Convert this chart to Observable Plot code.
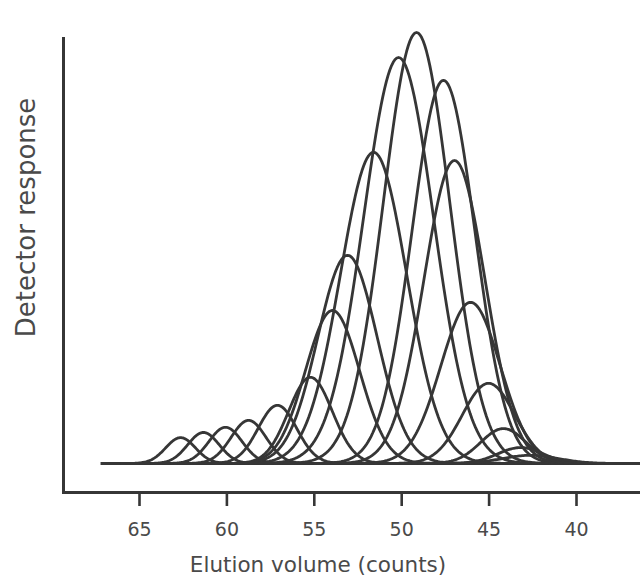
<!DOCTYPE html>
<html>
<head>
<meta charset="utf-8">
<script src="https://cdn.jsdelivr.net/npm/d3@7"></script>
<script src="https://cdn.jsdelivr.net/npm/@observablehq/plot@0.6"></script>
<style>
  html, body { margin: 0; padding: 0; background: #ffffff; }
  #chart svg { display: block; }
</style>
</head>
<body>
<div id="chart"></div>
<script>
// Peak centres (elution volume, counts), heights (relative response) and widths (sigma, counts)
const peakCenters = [62.65, 61.34, 60.08, 58.76, 57.11, 55.22, 53.96, 53.10, 51.61, 50.18, 49.15, 47.61, 46.98, 46.06, 45.03, 44.18, 43.20, 42.63];
const peakHeights = [6.0, 7.2, 8.4, 10.0, 13.5, 20.0, 35.5, 48.3, 72.2, 94.2, 100, 88.9, 70.3, 37.4, 18.6, 8.1, 3.7, 1.9];
const peakWidths  = [0.85, 0.9, 0.95, 1.0, 1.1, 1.25, 1.55, 1.7, 1.9, 2.0, 1.9, 1.8, 1.75, 1.7, 1.5, 1.3, 1.3, 1.6];
const xTicks = [65, 60, 55, 50, 45, 40];
const baselineExtent = [67.2, 36.9];
const xLabel = "Elution volume (counts)";
const yLabel = "Detector response";

// Build the curve table from the peak parameters
const curves = [];
peakCenters.forEach((c, i) => {
  const s = peakWidths[i], h = peakHeights[i];
  const n = 160;
  for (let k = 0; k <= n; k++) {
    const u = c - 4 * s + (8 * s * k) / n;
    curves.push({peak: i, volume: u, response: h * Math.exp(-((u - c) ** 2) / (2 * s * s))});
  }
});

const ink = "#363636";
const textInk = "#4a4a4a";
const font = "'DejaVu Sans', 'Liberation Sans', sans-serif";

const chart = Plot.plot({
  width: 640,
  height: 582,
  marginLeft: 63,
  marginRight: 0,
  marginTop: 38,
  marginBottom: 90,
  style: {fontFamily: font, background: "#ffffff", color: textInk},
  x: {domain: [65, 40], range: [139, 576]},
  y: {domain: [0, 100], range: [463, 32], axis: null},
  marks: [
    Plot.ruleY([0], {x1: baselineExtent[0], x2: baselineExtent[1], stroke: ink, strokeWidth: 2.8}),
    Plot.line(curves, {x: "volume", y: "response", z: "peak", stroke: ink, strokeWidth: 2.8, curve: "linear"}),
    Plot.frame({anchor: "left", stroke: ink, strokeWidth: 3}),
    Plot.frame({anchor: "bottom", stroke: ink, strokeWidth: 3}),
    Plot.axisX({
      ticks: xTicks, tickSize: 14, tickPadding: 16, stroke: ink, strokeWidth: 2.6,
      fontSize: 19, fill: textInk, label: null
    }),
    Plot.text([xLabel], {frameAnchor: "bottom", text: d => d, dx: -34, dy: 73, fontSize: 21.5, fill: textInk, lineAnchor: "middle", textAnchor: "middle"}),
    Plot.text([yLabel], {frameAnchor: "left", text: d => d, rotate: -90, dx: -37, dy: -48, fontSize: 26, fill: textInk, lineAnchor: "middle", textAnchor: "middle"})
  ]
});

document.getElementById("chart").appendChild(chart);
</script>
</body>
</html>
